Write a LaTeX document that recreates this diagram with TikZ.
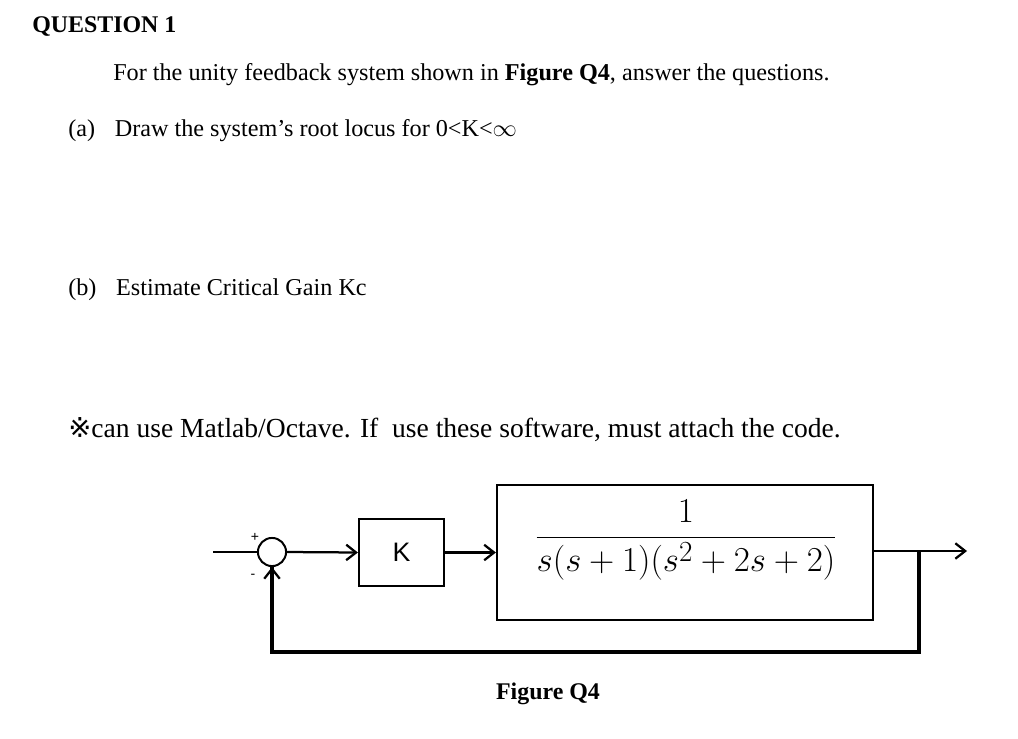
\documentclass[tikz,border=0pt]{standalone}
\usepackage{fontspec}
\setmainfont{Liberation Serif}
\setsansfont{Liberation Sans}
\newfontfamily\symfont{DejaVu Sans}
\usepackage{amsmath}
\usetikzlibrary{positioning,arrows.meta}
\begin{document}
\begin{tikzpicture}[x=0.025cm,y=-0.025cm,
        txt/.style={anchor=west,inner sep=0pt,font=\fontsize{17.2}{20}\selectfont},
        blk/.style={draw,line width=1.6pt,rectangle,inner sep=0pt},
        sig/.style={line width=1.6pt,->,>={Straight Barb[length=7pt,width=11pt]}},
        fb/.style={line width=2.6pt}]
    \useasboundingbox (0,0) rectangle (1018,738);
    % question text
    \node (title) [txt,font=\fontsize{17}{20}\selectfont\bfseries] at (32,27) {QUESTION 1};
    \node (intro) [txt] at (113,75) {For the unity feedback system shown in \textbf{Figure Q4}, answer the questions.};
    \node (parta) [txt] at (68,131) {(a)\hspace{14pt}Draw the system's root locus for 0<K<$\infty$};
    \node (partb) [txt] at (68,290) {(b)\hspace{14pt}Estimate Critical Gain Kc};
    \node (note) [txt,font=\fontsize{19.6}{23}\selectfont] at (68,430) {{\symfont ※}can use Matlab/Octave. If\ \ use these software, must attach the code.};
    % block diagram
    \node (sum) [draw,circle,line width=1.4pt,minimum size=20pt,inner sep=0pt] at (272,552) {};
    \coordinate (in) at (213,552);
    \node (gain) [blk,minimum width=85*0.025cm,minimum height=67*0.025cm,font=\sffamily\fontsize{19}{22}\selectfont] at (401.5,552.5) {K};
    \node (plant) [blk,minimum width=376*0.025cm,minimum height=135*0.025cm] at (685,552.5) {};
    \node (frac) at (686,540) {\fontsize{27.5}{32}\selectfont$\dfrac{\;1\;}{s(s+1)(s^2+2s+2)}$};
    \coordinate (out) at (967,551);
    \coordinate (tap) at (919,551);
    \coordinate (fbr) at (919,652);
    \coordinate (fbl) at (272,652);
    \draw [line width=1.6pt] (in) -- (sum.west);
    \draw [sig] (sum.east) -- (gain.west);
    \draw [sig] (gain.east) -- (plant.west);
    \draw [sig] (plant.east |- out) -- (out);
    \draw [fb] (tap) -- (fbr) -- (fbl) -- (fbl |- sum.south);
    \draw [sig] (fbl) ++(0,-20) -- (sum.south);
    \node (plus) [font=\sffamily\normalsize] at (255,537) {+};
    \node (minus) [font=\sffamily\normalsize] at (253,576) {-};
    \node (caption) [font=\fontsize{17}{20}\selectfont\bfseries] at (548,694) {Figure Q4};
\end{tikzpicture}
\end{document}
